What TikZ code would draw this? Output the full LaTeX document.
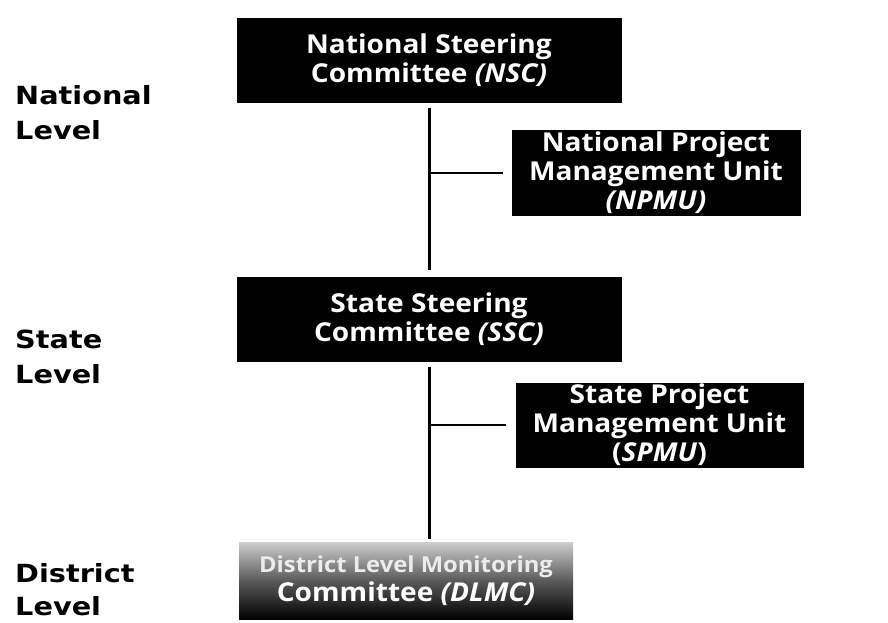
\documentclass[tikz,border=0pt]{standalone}
\usepackage{fontspec}
\setmainfont{Open Sans}
\newfontfamily\boxfont[FakeStretch=1.08]{Open Sans}
\newfontfamily\lvlfont[FakeStretch=1.15]{DejaVu Sans}
\begin{document}
\begin{tikzpicture}[x=1pt,y=-1pt,
  unitbox/.style={fill=black, draw=black, text=white, inner sep=0pt, align=center,
    font=\boxfont\bfseries\fontsize{26}{29}\selectfont},
  lvl/.style={anchor=north west, inner sep=0pt, align=left,
    font=\lvlfont\bfseries\fontsize{25}{35}\selectfont},
  trunk/.style={line width=3pt},
  branch/.style={line width=2pt}]
\useasboundingbox (0,0) rectangle (888,622);
\fill[white] (0,0) rectangle (888,622);

% level labels
\node[lvl] (lnat) at (15,85) {National\\Level};
\node[lvl] (lsta) at (15,330) {State\\Level};
\node[lvl, font=\lvlfont\bfseries\fontsize{25}{33}\selectfont] (ldis) at (15,563) {District\\Level};

% boxes
\node[unitbox, minimum width=384, minimum height=84] (nsc) at (429,60)
  {National Steering\\Committee \textit{(NSC)}};
\node[unitbox, minimum width=288, minimum height=85] (npmu) at (656,172.5)
  {National Project\\Management Unit\\\textit{(NPMU)}};
\node[unitbox, minimum width=384, minimum height=84] (ssc) at (429,319)
  {State Steering\\Committee \textit{(SSC)}};
\node[unitbox, minimum width=287, minimum height=84] (spmu) at (659.5,425)
  {State Project\\Management Unit\\(\textit{SPMU})};
\node[unitbox, draw=none, top color=gray!40, bottom color=black, middle color=gray!70!black,
  minimum width=334, minimum height=77] (dlmc) at (406,581)
  {{\fontsize{22}{29}\selectfont\textcolor{white!85!gray}{District Level Monitoring}}\\Committee \textit{(DLMC)}};

% connectors
\coordinate (j1) at (nsc.south |- npmu.west);
\coordinate (j2) at (ssc.south |- spmu.west);
\coordinate (e2) at (ssc.south |- dlmc.north);
\draw[trunk, shorten <=6pt, shorten >=7pt] (nsc.south) -- (ssc.north);
\draw[branch, shorten >=9pt] (j1) -- (npmu.west);
\draw[trunk, shorten <=6pt, shorten >=3pt] (ssc.south) -- (e2);
\draw[branch, shorten >=10pt] (j2) -- (spmu.west);
\end{tikzpicture}
\end{document}
